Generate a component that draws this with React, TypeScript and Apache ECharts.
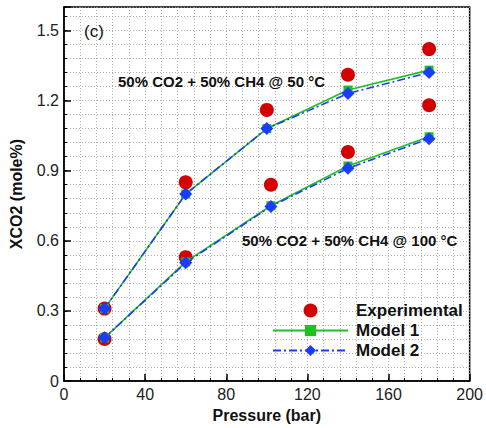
import React, { useEffect, useRef } from "react";
import * as echarts from "echarts";

const pressures = [20, 60, 100, 140, 180];
const pressures100 = [20, 60, 102, 140, 180];
const exp50 = [0.31, 0.85, 1.16, 1.31, 1.42];
const exp100 = [0.18, 0.53, 0.84, 0.98, 1.18];
const model1_50 = [0.31, 0.8, 1.08, 1.245, 1.33];
const model1_100 = [0.185, 0.51, 0.75, 0.92, 1.045];
const model2_50 = [0.31, 0.8, 1.08, 1.23, 1.32];
const model2_100 = [0.185, 0.506, 0.747, 0.91, 1.037];
const xTicks = [0, 40, 80, 120, 160, 200];
const yTicks = [0, 0.3, 0.6, 0.9, 1.2, 1.5];
const label50 = "50% CO2 + 50% CH4 @ 50 °C";
const label100 = "50% CO2 + 50% CH4 @ 100 °C";

const pair = (xs: number[], ys: number[]) => xs.map((x, i) => [x, ys[i]]);

const FONT = "Liberation Sans, Arial, sans-serif";
const RED = "#d40000";
const GREEN = "#1fc01f";
const BLUE = "#1a3cff";

export default function App() {
  const ref = useRef<HTMLDivElement>(null);
  useEffect(() => {
    if (!ref.current) return;
    const chart = echarts.init(ref.current, undefined, { renderer: "svg" });
    const gridDot = { show: true, lineStyle: { color: "#9a9a9a", type: [1, 2] as any, width: 0.8 } };
    const modelLine = (name: string, data: number[][], color: string, symbol: string, size: number, dash: any) => ({
      name,
      type: "line",
      data,
      symbol,
      symbolSize: size,
      itemStyle: { color },
      lineStyle: { color, width: 1.6, type: dash },
      z: 3,
    });
    chart.setOption({
      animation: false,
      grid: { left: 62, right: 14, top: 7, bottom: 46, show: true, borderColor: "#000", borderWidth: 1.5, backgroundColor: "#fff" },
      xAxis: [
        {
          type: "value", min: xTicks[0], max: xTicks[xTicks.length - 1], interval: 40,
          name: "Pressure (bar)", nameLocation: "middle", nameGap: 22,
          nameTextStyle: { fontFamily: FONT, fontWeight: "bold", fontSize: 16, color: "#111" },
          axisLine: { show: true, lineStyle: { color: "#000", width: 1.5 } },
          axisTick: { show: true, inside: true, length: 7, lineStyle: { color: "#000", width: 1.5 } },
          axisLabel: { fontFamily: FONT, fontSize: 16, color: "#222", margin: 5 },
          splitLine: { show: false },
        },
        {
          type: "value", min: 0, max: 200, interval: 8, position: "bottom", gridIndex: 0,
          axisLine: { show: false }, axisLabel: { show: false },
          axisTick: { show: true, inside: true, length: 3, lineStyle: { color: "#000", width: 1 } },
          splitLine: gridDot,
        },
      ],
      yAxis: [
        {
          type: "value", min: 0, max: 1.6, interval: 0.3,
          name: "XCO2 (mole%)", nameLocation: "middle", nameGap: 40,
          nameTextStyle: { fontFamily: FONT, fontWeight: "bold", fontSize: 16, color: "#111" },
          axisLine: { show: true, lineStyle: { color: "#000", width: 1.5 } },
          axisTick: { show: true, inside: true, length: 7, lineStyle: { color: "#000", width: 1.5 } },
          axisLabel: {
            fontFamily: FONT, fontSize: 16, color: "#222", margin: 5,
            formatter: (v: number) => (yTicks.some((t) => Math.abs(t - v) < 1e-6) ? (v === 0 ? "0" : v.toFixed(1)) : ""),
          },
          splitLine: { show: false },
        },
        {
          type: "value", min: 0, max: 1.6, interval: 0.06, position: "left",
          axisLine: { show: false }, axisLabel: { show: false },
          axisTick: { show: true, inside: true, length: 3, lineStyle: { color: "#000", width: 1 } },
          splitLine: gridDot,
        },
      ],
      legend: {
        orient: "vertical", left: 267, top: 297, itemWidth: 75, itemHeight: 14, itemGap: 3,
        data: ["Experimental", "Model 1", "Model 2"],
        textStyle: { fontFamily: FONT, fontWeight: "bold", fontSize: 17, color: "#111", padding: [0, 0, 0, 3] },
      },
      graphic: [
        { type: "text", left: 84, top: 23, style: { text: "(c)", font: `17px ${FONT}`, fill: "#111" }, z: 10 },
        { type: "text", left: 118, top: 74, style: { text: label50, font: `bold 15px ${FONT}`, fill: "#111" }, z: 10 },
        { type: "text", left: 242, top: 233, style: { text: label100, font: `bold 15px ${FONT}`, fill: "#111" }, z: 10 },
      ],
      series: [
        { name: "Experimental", type: "scatter", data: pair(pressures, exp50), symbol: "circle", symbolSize: 14, itemStyle: { color: RED, opacity: 1 }, z: 2 },
        { name: "Experimental", type: "scatter", data: pair(pressures100, exp100), symbol: "circle", symbolSize: 14, itemStyle: { color: RED, opacity: 1 }, z: 2 },
        modelLine("Model 1", pair(pressures, model1_50), GREEN, "rect", 9, "solid"),
        modelLine("Model 1", pair(pressures100, model1_100), GREEN, "rect", 9, "solid"),
        modelLine("Model 2", pair(pressures, model2_50), BLUE, "diamond", 13, [8, 3, 2, 3]),
        modelLine("Model 2", pair(pressures100, model2_100), BLUE, "diamond", 13, [8, 3, 2, 3]),
      ],
    });
    return () => chart.dispose();
  }, []);
  return <div ref={ref} style={{ width: 486, height: 428, position: "absolute", left: 0, top: 0 }} />;
}
